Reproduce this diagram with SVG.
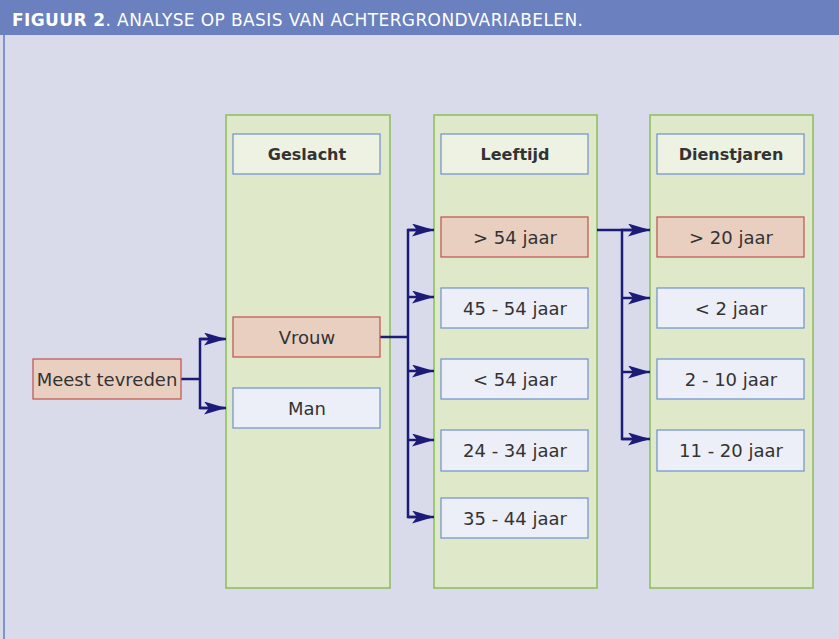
<svg xmlns="http://www.w3.org/2000/svg" width="839" height="639" viewBox="0 0 839 639">
<defs>
<marker id="ah" markerWidth="22" markerHeight="13" refX="22" refY="6.5" orient="auto" markerUnits="userSpaceOnUse">
<path d="M0,0 L22,6.5 L0,13 L5,6.5 Z" fill="#1c1c78"/>
</marker>
</defs>
<style>
.col{fill:#dfe8c8;stroke:#8cbd5c;stroke-width:1.5}
.hdr{fill:#eef2e2;stroke:#6f8fd0;stroke-width:1.2}
.red{fill:#e8cfc0;stroke:#c0504d;stroke-width:1.2}
.blu{fill:#eceef8;stroke:#6f8fd0;stroke-width:1.2}
text{font-family:"DejaVu Sans","Liberation Sans",sans-serif;fill:#333;font-size:18px;text-anchor:middle}
.b{font-weight:bold;font-size:16px}
.con{fill:none;stroke:#1c1c78;stroke-width:2.5}
</style>
<rect x="0" y="0" width="839" height="639" fill="#d9dbeb"/>
<rect x="0" y="0" width="839" height="35" fill="#6a80bf"/>
<line x1="4" y1="35" x2="4" y2="639" stroke="#7f93cf" stroke-width="2"/>
<text x="12" y="26" textLength="571" style="text-anchor:start;fill:#fff;font-size:17px"><tspan style="fill:#fff;font-weight:bold">FIGUUR 2</tspan>. ANALYSE OP BASIS VAN ACHTERGRONDVARIABELEN.</text>

<g id="col-geslacht"><rect class="col" x="226" y="115" width="164" height="473"/></g>
<g id="col-leeftijd"><rect class="col" x="434" y="115" width="163" height="473"/></g>
<g id="col-dienstjaren"><rect class="col" x="650" y="115" width="163" height="473"/></g>

<g id="connectors">
<polyline class="con" points="181,379 200,379"/>
<polyline class="con" points="224,339 200,339 200,408 224,408"/>
<line class="con" x1="200" y1="339" x2="226" y2="339" marker-end="url(#ah)"/>
<line class="con" x1="200" y1="408" x2="226" y2="408" marker-end="url(#ah)"/>
<polyline class="con" points="380,337 408,337"/>
<polyline class="con" points="430,230 408,230 408,517 430,517"/>
<line class="con" x1="408" y1="230" x2="434" y2="230" marker-end="url(#ah)"/>
<line class="con" x1="408" y1="297" x2="434" y2="297" marker-end="url(#ah)"/>
<line class="con" x1="408" y1="371" x2="434" y2="371" marker-end="url(#ah)"/>
<line class="con" x1="408" y1="440" x2="434" y2="440" marker-end="url(#ah)"/>
<line class="con" x1="408" y1="517" x2="434" y2="517" marker-end="url(#ah)"/>
<polyline class="con" points="597,230 622,230"/>
<polyline class="con" points="646,230 622,230 622,439 646,439"/>
<line class="con" x1="622" y1="230" x2="650" y2="230" marker-end="url(#ah)"/>
<line class="con" x1="622" y1="298" x2="650" y2="298" marker-end="url(#ah)"/>
<line class="con" x1="622" y1="372" x2="650" y2="372" marker-end="url(#ah)"/>
<line class="con" x1="622" y1="439" x2="650" y2="439" marker-end="url(#ah)"/>
</g>

<g id="meest-tevreden"><rect class="red" x="33" y="359" width="148" height="40"/><text x="107" y="386">Meest tevreden</text></g>

<g id="geslacht"><rect class="hdr" x="233" y="134" width="147" height="40"/><text class="b" x="307" y="160">Geslacht</text></g>
<g id="vrouw"><rect class="red" x="233" y="317" width="147" height="40"/><text x="307" y="344">Vrouw</text></g>
<g id="man"><rect class="blu" x="233" y="388" width="147" height="40"/><text x="307" y="415">Man</text></g>

<g id="leeftijd"><rect class="hdr" x="441" y="134" width="147" height="40"/><text class="b" x="515" y="160">Leeftijd</text></g>
<g id="l-gt54"><rect class="red" x="441" y="217" width="147" height="40"/><text x="515" y="244">&gt; 54 jaar</text></g>
<g id="l-45-54"><rect class="blu" x="441" y="288" width="147" height="40"/><text x="515" y="315">45 - 54 jaar</text></g>
<g id="l-lt54"><rect class="blu" x="441" y="359" width="147" height="40"/><text x="515" y="386">&lt; 54 jaar</text></g>
<g id="l-24-34"><rect class="blu" x="441" y="430" width="147" height="41"/><text x="515" y="457">24 - 34 jaar</text></g>
<g id="l-35-44"><rect class="blu" x="441" y="498" width="147" height="40"/><text x="515" y="525">35 - 44 jaar</text></g>

<g id="dienstjaren"><rect class="hdr" x="657" y="134" width="147" height="40"/><text class="b" x="731" y="160">Dienstjaren</text></g>
<g id="d-gt20"><rect class="red" x="657" y="217" width="147" height="40"/><text x="731" y="244">&gt; 20 jaar</text></g>
<g id="d-lt2"><rect class="blu" x="657" y="288" width="147" height="40"/><text x="731" y="315">&lt; 2 jaar</text></g>
<g id="d-2-10"><rect class="blu" x="657" y="359" width="147" height="40"/><text x="731" y="386">2 - 10 jaar</text></g>
<g id="d-11-20"><rect class="blu" x="657" y="430" width="147" height="41"/><text x="731" y="457">11 - 20 jaar</text></g>
</svg>
